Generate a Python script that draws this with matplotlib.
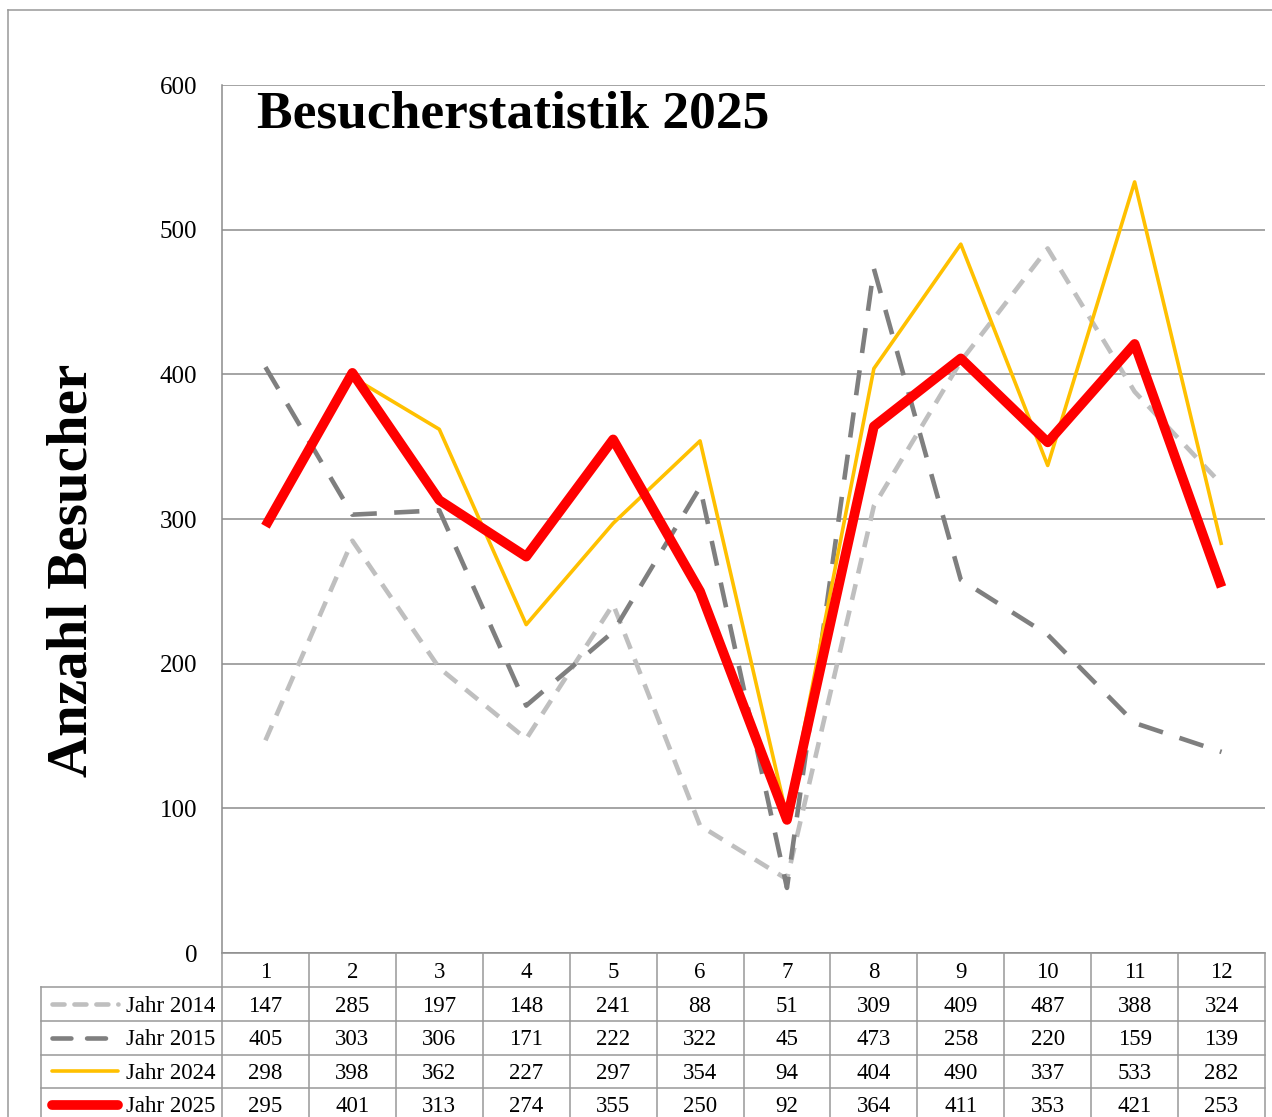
import matplotlib
matplotlib.use('Agg')
import matplotlib.pyplot as plt
import matplotlib.transforms as mtransforms
from matplotlib.lines import Line2D

# data
months = list(range(1, 13))
jahr_2014 = [147, 285, 197, 148, 241, 88, 51, 309, 409, 487, 388, 324]
jahr_2015 = [405, 303, 306, 171, 222, 322, 45, 473, 258, 220, 159, 139]
jahr_2024 = [298, 398, 362, 227, 297, 354, 94, 404, 490, 337, 533, 282]
jahr_2025 = [295, 401, 313, 274, 355, 250, 92, 364, 411, 353, 421, 253]
series_names = ['Jahr 2014', 'Jahr 2015', 'Jahr 2024', 'Jahr 2025']
series = [jahr_2014, jahr_2015, jahr_2024, jahr_2025]

styles = [
    dict(color='#BFBFBF', lw=3.3, dashes=(3.5, 2.4)),
    dict(color='#7F7F7F', lw=3.3, dashes=(5.5, 3.8)),
    dict(color='#FFC000', lw=2.6),
    dict(color='#FF0000', lw=7.0),
]

plt.rcParams['font.family'] = ['Liberation Serif', 'DejaVu Serif']

W, H = 1272, 1117
fig = plt.figure(figsize=(W / 100, H / 100), dpi=100)


def fx(px):
    return px / W


def fy(py):
    return 1 - py / H


grid_c = '#8C8C8C'
ax = fig.add_axes([fx(222), fy(953), fx(1265) - fx(222), fy(85) - fy(953)])
ax.set_xlim(0.5, 12.5)
ax.set_ylim(0, 600)
ax.set_yticks(range(0, 601, 100))
ax.set_xticks([])
ax.tick_params(axis='y', length=0, pad=18, labelsize=18)
ax.grid(axis='y', color=grid_c, lw=1.1)
ax.set_axisbelow(True)
for s in ['top', 'right']:
    ax.spines[s].set_visible(False)
for s in ['left', 'bottom']:
    ax.spines[s].set_color(grid_c)
    ax.spines[s].set_linewidth(1.1)

for i, (vals, st) in enumerate(zip(series, styles)):
    kw = dict(color=st['color'], lw=st['lw'], zorder=3 + i, solid_capstyle='butt')
    if 'dashes' in st:
        kw['dashes'] = st['dashes']
    ax.plot(months, vals, **kw)

ax.text(0.034, 0.966, 'Besucherstatistik 2025', transform=ax.transAxes,
        fontsize=38.5, fontweight='bold', va='center', ha='left')

fig.text(fx(73), fy(570), 'Anzahl Besucher', rotation=90, fontsize=41,
         fontweight='bold', va='center', ha='center')

# data table under the axis
blend = mtransforms.blended_transform_factory(ax.transData, fig.transFigure)
tab_c = '#999999'
row_top = [953, 987, 1021, 1054.5, 1088, 1122]
for e in [m - 0.5 for m in months] + [12.5]:
    fig.add_artist(Line2D([e, e], [fy(953), fy(H)], transform=blend,
                          color=tab_c, lw=1.1))
fig.add_artist(Line2D([fx(41), fx(41)], [fy(987), fy(H)], color=tab_c, lw=1.1))
for py in row_top[1:5]:
    fig.add_artist(Line2D([fx(41), fx(1265)], [fy(py), fy(py)], color=tab_c, lw=1.1))
fig.add_artist(Line2D([fx(8), fx(8)], [fy(10), 0], color='#999999', lw=1.1))
fig.add_artist(Line2D([fx(8), 1], [fy(10), fy(10)], color='#999999', lw=1.1))

yc = (row_top[0] + row_top[1]) / 2 + 2
for m in months:
    fig.text(m, fy(yc), str(m), transform=blend, ha='center', va='center', fontsize=16.5)

for r, (name, vals, st) in enumerate(zip(series_names, series, styles)):
    yc = (row_top[r + 1] + row_top[r + 2]) / 2 + 2
    kw = dict(color=st['color'], lw=st['lw'], solid_capstyle='round', dash_capstyle='round')
    if 'dashes' in st:
        kw['dashes'] = (st['dashes'][0] * 0.75, st['dashes'][1] * 0.9)
    fig.add_artist(Line2D([fx(52), fx(118)], [fy(yc - 2), fy(yc - 2)], **kw))
    fig.text(fx(126), fy(yc), name, ha='left', va='center', fontsize=16.5)
    for m, v in zip(months, vals):
        fig.text(m, fy(yc), str(v), transform=blend, ha='center', va='center', fontsize=16.5)

fig.savefig('out.png', dpi=100)
